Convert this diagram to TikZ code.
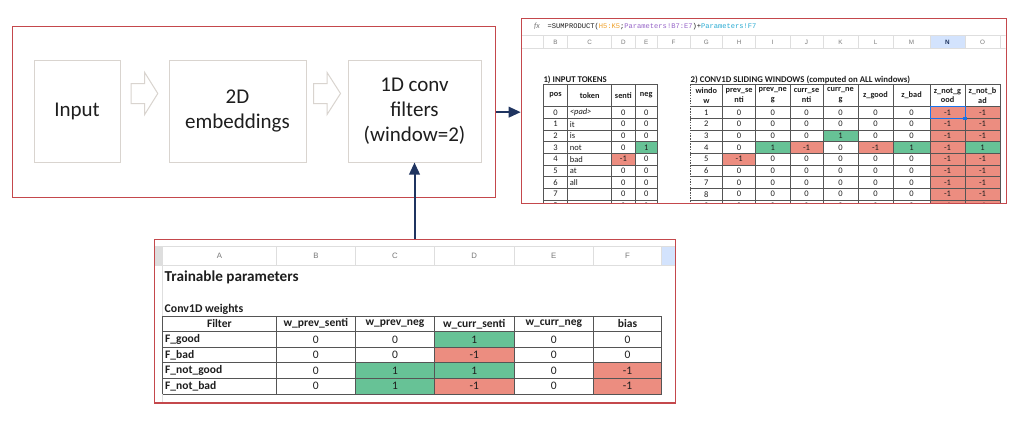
\documentclass[tikz,border=0pt]{standalone}
\usepackage{fontspec}
\setmainfont{Carlito}
\newfontfamily\monof{Liberation Mono}
\newfontfamily\arialf{Liberation Sans}
\usetikzlibrary{arrows.meta}
\definecolor{framered}{RGB}{196,72,76}
\definecolor{navy}{RGB}{31,52,96}
\definecolor{boxgray}{RGB}{217,212,207}
\definecolor{cgreen}{RGB}{103,194,150}
\definecolor{cred}{RGB}{236,141,128}
\definecolor{gridd}{RGB}{85,85,85}
\definecolor{gridl}{RGB}{222,222,222}
\definecolor{hdrtxt}{RGB}{120,120,120}
\definecolor{selblue}{RGB}{211,227,253}
\definecolor{fxorange}{RGB}{240,160,40}
\definecolor{fxpurple}{RGB}{150,100,200}
\definecolor{fxcyan}{RGB}{40,170,210}
\definecolor{selline}{RGB}{26,115,232}
\definecolor{txt}{RGB}{30,30,30}
\newcommand\colvals[3]{\foreach \v [count=\i from 0] in {#3} {\node[cell] at (#1,{#2+\i*11.667}) {\v};}}
\newcommand\bcol[2]{\foreach \v [count=\i from 0] in {#2} {\node[bcell] at (#1,{339.4+\i*15.6}) {\v};}}
\newcommand\rfill[4]{\fill[#4] (#1,{106.7+#3*11.667}) rectangle (#2,{106.7+(#3+1)*11.667});}
\newcommand\bfill[4]{\fill[#4] (#1,{331.6+#3*15.6}) rectangle (#2,{331.6+(#3+1)*15.6});}
\tikzset{
  redframe/.style={draw=framered, line width=1.3pt, inner sep=0pt, anchor=north west},
  ibox/.style={draw=boxgray, line width=1pt, inner sep=0pt, align=center, text=txt,
    font=\fontsize{21}{25.3}\selectfont},
  barrow/.style={draw=boxgray, line width=1pt, fill=white, line join=miter},
  navyarrow/.style={draw=navy, line width=2pt, -{Triangle[length=12pt,width=10.5pt]}},
  cell/.style={inner sep=0pt, text=txt, font=\fontsize{8.5}{10}\selectfont},
  hcell/.style={inner sep=0pt, text=txt, align=center, font=\bfseries\fontsize{8.3}{9.6}\selectfont},
  bcell/.style={inner sep=0pt, text=txt, font=\fontsize{11.5}{13}\selectfont},
  bhcell/.style={inner sep=0pt, text=txt, font=\bfseries\fontsize{11.5}{13}\selectfont},
  tline/.style={draw=gridd, line width=0.7pt},
  lline/.style={draw=gridl, line width=0.7pt},
  colletter/.style={inner sep=0pt, text=hdrtxt, font=\arialf\fontsize{6.3}{7}\selectfont},
  bcolletter/.style={inner sep=0pt, text=hdrtxt, font=\arialf\fontsize{7.8}{9}\selectfont},
}
\begin{document}
\begin{tikzpicture}[x=1pt,y=-1pt]
\useasboundingbox (0,0) rectangle (1024,434);
\fill[white] (0,0) rectangle (1024,434);

% ---------- left pipeline ----------
\node[redframe, minimum width=483pt, minimum height=171pt] (frame) at (12,26) {};
\node[ibox, minimum width=86pt, minimum height=101.5pt] (inp) at (77,111.25) {Input};
\node[ibox, minimum width=137pt, minimum height=101.5pt] (emb) at (237.5,111.25) {2D\\embeddings};
\node[ibox, minimum width=133pt, minimum height=101.5pt] (conv) at (414.5,111.25) {1D conv\\filters\\(window=2)};
\draw[barrow] (131,83.5) -- (144.6,83.5) -- (144.6,72.4) -- (157.8,93.5) -- (144.6,114.6) -- (144.6,103.5) -- (131,103.5) -- cycle;
\draw[barrow] (313.5,83.5) -- (327,83.5) -- (327,72.4) -- (340.5,93.5) -- (327,114.6) -- (327,103.5) -- (313.5,103.5) -- cycle;

% ---------- right spreadsheet ----------
\begin{scope}
\clip (520.7,17.7) rectangle (1005.7,202.7);
% formula bar
\node[inner sep=0pt, text=hdrtxt, font=\itshape\fontsize{8}{9}\selectfont] at (537,26.5) {fx};
\node[inner sep=0pt, anchor=west, text=txt, font=\monof\fontsize{7.1}{8}\selectfont] at (547.5,26.5)
  {=SUMPRODUCT(\textcolor{fxorange}{H5:K5};\textcolor{fxpurple}{Parameters!B7:E7})+\textcolor{fxcyan}{Parameters!F7}};
% column header row
\fill[selblue] (930,35.7) rectangle (965,48.3);
\draw[lline] (520.7,35.7) -- (1005.7,35.7);
\draw[lline] (520.7,48.3) -- (1005.7,48.3);
\foreach \x in {543.3,567.7,611.7,635,657.3,690,722.7,755.5,790,823,858,893,930,965,1000}
  \draw[lline] (\x,35.7) -- (\x,48.3);
\foreach \x/\l in {555.5/B,589.7/C,623.35/D,646.15/E,673.65/F,706.35/G,739.1/H,772.75/I,806.5/J,840.5/K,875.5/L,911.5/M,982.5/O}
  \node[colletter] at (\x,42) {\l};
\node[colletter, text=navy, font=\arialf\bfseries\fontsize{6.3}{7}\selectfont] at (947.5,42) {N};
% titles
\node[inner sep=0pt, anchor=base west, text=txt, font=\bfseries\fontsize{8.8}{10}\selectfont] at (543.3,82) {1) INPUT TOKENS};
\node[inner sep=0pt, anchor=base west, text=txt, font=\bfseries\fontsize{8.8}{10}\selectfont] at (690.5,82) {2) CONV1D SLIDING WINDOWS (computed on ALL windows)};
% fills table 1
\rfill{611.7}{635}{4}{cred}
\rfill{635}{657.3}{3}{cgreen}
% fills table 2
\rfill{722.7}{755.5}{4}{cred}
\rfill{755.5}{790}{3}{cgreen}
\rfill{790}{823}{3}{cred}
\rfill{823}{858}{2}{cgreen}
\rfill{858}{893}{3}{cred}
\rfill{893}{930}{3}{cgreen}
\fill[cred] (930,106.7) rectangle (1000,215);
\rfill{965}{1000}{3}{cgreen}
% grid table 1
\draw[tline] (543.3,84) -- (657.3,84);
\foreach \i in {0,...,9} \draw[tline] (543.3,{106.7+\i*11.667}) -- (657.3,{106.7+\i*11.667});
\foreach \x in {543.3,567.7,611.7,635,657.3} \draw[tline] (\x,84) -- (\x,215);
% grid table 2
\draw[tline] (690,84) -- (1000,84);
\foreach \i in {0,...,9} \draw[tline] (690,{106.7+\i*11.667}) -- (1000,{106.7+\i*11.667});
\draw[draw=gridd, line width=0.7pt, dash pattern=on 1.5pt off 1.2pt] (690,84) -- (690,215);
\foreach \x in {722.7,755.5,790,823,858,893,930,965,1000} \draw[tline] (\x,84) -- (\x,215);
% selection
\draw[draw=selline, line width=1pt] (930,106.7) rectangle (965,118.37);
\fill[selline] (963.3,116.7) rectangle (966.7,120.0);
% headers
\foreach \x/\t in {555.5/pos,589.7/token,623.35/senti,646.15/neg}
  \node[hcell] at (\x,95.35) {\t};
\foreach \x/\t in {706.35/windo\\w,739.1/prev\_se\\nti,772.75/prev\_ne\\g,806.5/curr\_se\\nti,840.5/curr\_ne\\g,875.5/z\_good,911.5/z\_bad,947.5/z\_not\_g\\ood,982.5/z\_not\_b\\ad}
  \node[hcell] at (\x,95.35) {\t};
% values table 1
\colvals{555.5}{112.53}{0,1,2,3,4,5,6,7,8}
\foreach \v [count=\i from 0] in {\textit{<pad>},it,is,not,bad,at,all}
  \node[cell, anchor=west] at (569.7,{112.53+\i*11.667}) {\v};
\colvals{623.35}{112.53}{0,0,0,0,-1,0,0,0,0}
\colvals{646.15}{112.53}{0,0,0,1,0,0,0,0,0}
% values table 2
\colvals{706.35}{112.53}{1,2,3,4,5,6,7,8,9}
\colvals{739.1}{112.53}{0,0,0,0,-1,0,0,0,0}
\colvals{772.75}{112.53}{0,0,0,1,0,0,0,0,0}
\colvals{806.5}{112.53}{0,0,0,-1,0,0,0,0,0}
\colvals{840.5}{112.53}{0,0,1,0,0,0,0,0,0}
\colvals{875.5}{112.53}{0,0,0,-1,0,0,0,0,0}
\colvals{911.5}{112.53}{0,0,0,1,0,0,0,0,0}
\colvals{947.5}{112.53}{-1,-1,-1,-1,-1,-1,-1,-1,-1}
\colvals{982.5}{112.53}{-1,-1,-1,1,-1,-1,-1,-1,-1}
\end{scope}
\node[redframe, minimum width=485pt, minimum height=185pt] (rsheet) at (520.7,17.7) {};

% ---------- bottom spreadsheet ----------
\fill[selblue] (661.7,246.7) rectangle (675,265);
\fill[gridl] (154,246.7) rectangle (162.7,265);
\draw[lline] (154,246.7) -- (675,246.7);
\draw[lline] (154,265) -- (675,265);
\foreach \x in {162.7,276,355.7,434.3,514.3,593.3,661.7} \draw[lline] (\x,246.7) -- (\x,265);
\draw[lline] (162.7,265) -- (162.7,402.3);
\foreach \x/\l in {219.35/A,315.85/B,395/C,474.3/D,553.8/E,627.5/F}
  \node[bcolletter] at (\x,255.85) {\l};
\node[inner sep=0pt, anchor=west, text=txt, font=\bfseries\fontsize{15.2}{17}\selectfont] at (164.5,277.5) {Trainable parameters};
\node[inner sep=0pt, anchor=west, text=txt, font=\bfseries\fontsize{11.8}{13}\selectfont] at (164.5,309) {Conv1D weights};
\bfill{434.3}{514.3}{0}{cgreen}
\bfill{434.3}{514.3}{1}{cred}
\bfill{355.7}{434.3}{2}{cgreen}
\bfill{434.3}{514.3}{2}{cgreen}
\bfill{593.3}{661.7}{2}{cred}
\bfill{355.7}{434.3}{3}{cgreen}
\bfill{434.3}{514.3}{3}{cred}
\bfill{593.3}{661.7}{3}{cred}
\foreach \i in {0,...,5} \draw[tline] (162.7,{316+\i*15.6}) -- (661.7,{316+\i*15.6});
\foreach \x in {162.7,276,355.7,434.3,514.3,593.3,661.7} \draw[tline] (\x,316) -- (\x,394);
\foreach \x/\t in {219.35/Filter,315.85/w\_prev\_senti,395/w\_prev\_neg,474.3/w\_curr\_senti,553.8/w\_curr\_neg,627.5/bias}
  \node[bhcell] at (\x,323.8) {\t};
\foreach \t [count=\i from 0] in {F\_good,F\_bad,F\_not\_good,F\_not\_bad}
  \node[bhcell, anchor=west] at (165,{339.4+\i*15.6}) {\t};
\bcol{315.85}{0,0,0,0}
\bcol{395}{0,0,1,1}
\bcol{474.3}{1,-1,1,-1}
\bcol{553.8}{0,0,0,0}
\bcol{627.5}{0,0,-1,-1}
\node[redframe, minimum width=521pt, minimum height=163.8pt] (bsheet) at (154,238.5) {};

% ---------- connectors ----------
\draw[navyarrow] (frame.east) -- (frame.east -| rsheet.west);
\draw[navyarrow] (bsheet.north -| conv.south) -- (conv.south);
\end{tikzpicture}
\end{document}
